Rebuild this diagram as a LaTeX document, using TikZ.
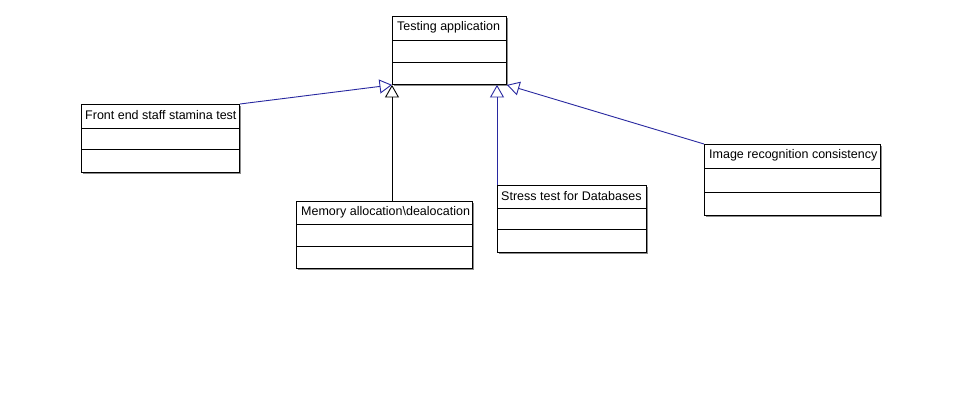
\documentclass[tikz,border=0pt]{standalone}
\usepackage{fontspec}
\setmainfont{Liberation Sans}
\usetikzlibrary{arrows.meta,shadows}
\begin{document}
\begin{tikzpicture}[x=1pt,y=-1pt,
  cls/.style={draw=black, line width=0.9pt, fill=white, anchor=north west, inner sep=0pt,
    drop shadow={shadow xshift=1.6pt, shadow yshift=-1.6pt, fill=black!45, opacity=1}},
  sep/.style={draw=black, line width=0.9pt},
  ttl/.style={anchor=west, inner sep=0pt, font=\fontsize{12.5pt}{14pt}\selectfont},
  gen/.style={draw=navyline, line width=0.9pt, -{Triangle[open, fill=white, length=12.5pt, width=14pt, line width=0.9pt]}},
  genb/.style={gen, draw=black}
]
\definecolor{navyline}{RGB}{40,40,160}
\useasboundingbox (0,0) rectangle (961,412);
\fill[white] (0,0) rectangle (961,412);

% Testing application
\node[cls, minimum width=114pt, minimum height=68pt] (ta) at (392,16) {};
\draw[sep] (392,40) -- (506,40) (392,62) -- (506,62);
\node[ttl] (tat) at (397,27) {Testing application};

% Front end
\node[cls, minimum width=158pt, minimum height=68pt] (fe) at (81,104) {};
\draw[sep] (81,128) -- (239,128) (81,149) -- (239,149);
\node[ttl] (fet) at (85,115) {Front end staff stamina test};

% Memory
\node[cls, minimum width=176pt, minimum height=67pt] (mem) at (296,201) {};
\draw[sep] (296,224) -- (472,224) (296,246) -- (472,246);
\node[ttl] (memt) at (301,212) {Memory allocation\textbackslash dealocation};

% Stress
\node[cls, minimum width=149pt, minimum height=67pt] (st) at (497,185) {};
\draw[sep] (497,208) -- (646,208) (497,229) -- (646,229);
\node[ttl] (stt) at (501,196) {Stress test for Databases};

% Image
\node[cls, minimum width=176pt, minimum height=71pt] (img) at (704,144) {};
\draw[sep] (704,168) -- (880,168) (704,192) -- (880,192);
\node[ttl] (imgt) at (709,155) {Image recognition consistency};

% Generalizations
\draw[gen] (fe.north east) -- (ta.south west);
\draw[genb] (ta.south west |- mem.north) -- (ta.south west);
\draw[gen] (st.north west) -- (st.north west |- ta.south);
\draw[gen] (img.north west) -- (ta.south east);
\end{tikzpicture}
\end{document}
